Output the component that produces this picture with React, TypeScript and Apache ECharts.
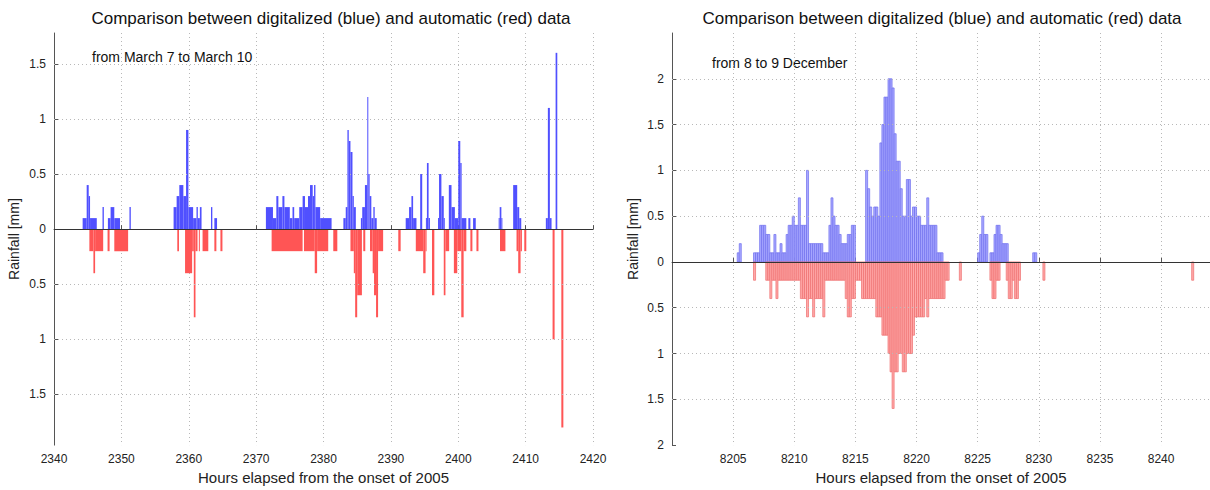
import React, { useEffect, useRef } from "react";
import * as echarts from "echarts";

const titleText = "Comparison between digitalized (blue) and automatic (red) data";
const xName = "Hours elapsed from the onset of 2005";
const yName = "Rainfall [mm]";
const marchNote = "from March 7 to March 10";
const decNote = "from 8 to 9 December";

const marchXTicks = [2340, 2350, 2360, 2370, 2380, 2390, 2400, 2410, 2420];
const marchYTicks = [-1.5, -1, -0.5, 0, 0.5, 1, 1.5];
const decXTicks = [8205, 8210, 8215, 8220, 8225, 8230, 8235, 8240];
const decYTicks = [-2, -1.5, -1, -0.5, 0, 0.5, 1, 1.5, 2];

// March: [start hour, end hour, rainfall mm] (digitalized = blue, automatic = red, shown negative)
const marchBlue: [number, number, number][] = [
  [2344.25, 2344.85, 0.1], [2344.85, 2345.15, 0.4], [2345.15, 2345.35, 0.3], [2345.35, 2346.35, 0.1],
  [2347.2, 2347.4, 0.2],
  [2348.0, 2348.4, 0.1], [2348.4, 2348.95, 0.2], [2348.95, 2349.8, 0.1],
  [2351.2, 2351.4, 0.2],
  [2357.75, 2358.2, 0.2], [2358.2, 2358.6, 0.3], [2358.6, 2359.2, 0.4], [2359.2, 2359.6, 0.3],
  [2359.6, 2359.95, 0.9], [2359.95, 2360.65, 0.2], [2360.65, 2361.15, 0.1], [2361.15, 2361.35, 0.2],
  [2361.35, 2361.65, 0.1], [2361.65, 2361.9, 0.2],
  [2363.3, 2363.5, 0.2], [2363.8, 2364.2, 0.1],
  [2371.45, 2372.5, 0.2], [2372.5, 2373.0, 0.1], [2373.0, 2373.3, 0.3], [2373.3, 2373.9, 0.2],
  [2373.9, 2374.2, 0.3], [2374.2, 2375.0, 0.2], [2375.0, 2375.4, 0.1], [2375.4, 2375.65, 0.2],
  [2375.65, 2376.4, 0.1], [2376.4, 2376.9, 0.2], [2376.9, 2377.25, 0.3], [2377.25, 2377.7, 0.2],
  [2377.7, 2378.0, 0.3], [2378.0, 2378.4, 0.4], [2378.4, 2378.6, 0.3], [2378.6, 2378.8, 0.4],
  [2378.8, 2379.5, 0.2], [2379.5, 2381.2, 0.1],
  [2382.95, 2383.3, 0.1], [2383.3, 2383.55, 0.2], [2383.55, 2383.75, 0.9], [2383.75, 2384.0, 0.8],
  [2384.0, 2384.3, 0.7], [2384.3, 2384.5, 0.3], [2384.5, 2384.8, 0.2],
  [2385.55, 2385.75, 0.1], [2385.75, 2386.15, 0.2], [2386.15, 2386.5, 0.4], [2386.5, 2386.65, 1.2],
  [2386.65, 2386.85, 0.5], [2386.85, 2387.1, 0.3], [2387.1, 2387.4, 0.1], [2387.4, 2387.6, 0.2],
  [2387.6, 2387.9, 0.1],
  [2392.2, 2392.7, 0.1], [2392.7, 2393.05, 0.2], [2393.05, 2393.3, 0.3], [2393.3, 2393.8, 0.1],
  [2394.35, 2394.65, 0.5], [2395.2, 2395.35, 0.1], [2395.35, 2395.6, 0.6], [2395.6, 2395.8, 0.1],
  [2397.0, 2397.15, 0.1], [2397.15, 2397.5, 0.5], [2397.5, 2397.85, 0.3], [2397.85, 2398.0, 0.1],
  [2398.6, 2399.0, 0.4], [2399.0, 2399.5, 0.2], [2399.5, 2400.0, 0.1], [2400.0, 2400.3, 0.8],
  [2400.3, 2400.5, 0.6], [2400.5, 2401.2, 0.1], [2401.5, 2401.8, 0.1], [2402.2, 2402.6, 0.1],
  [2406.0, 2406.15, 0.1], [2406.15, 2406.4, 0.2], [2406.4, 2406.55, 0.1],
  [2408.15, 2408.75, 0.4], [2408.75, 2409.05, 0.2], [2409.05, 2409.35, 0.1],
  [2413.0, 2413.3, 0.1], [2413.3, 2413.6, 1.1], [2413.6, 2413.85, 0.1],
  [2414.45, 2414.7, 1.6],
];

const marchRed: [number, number, number][] = [
  [2345.25, 2345.85, -0.2], [2345.85, 2346.1, -0.4], [2346.1, 2347.3, -0.2],
  [2347.95, 2348.25, -0.2], [2348.95, 2351.0, -0.2],
  [2358.3, 2358.55, -0.2], [2359.45, 2360.5, -0.4], [2360.5, 2360.75, -0.2], [2360.75, 2361.0, -0.8],
  [2361.0, 2361.3, -0.2], [2361.5, 2361.65, -0.2], [2362.05, 2362.9, -0.2], [2363.8, 2364.1, -0.2],
  [2364.7, 2365.0, -0.2],
  [2372.3, 2376.9, -0.2], [2377.1, 2378.7, -0.2], [2378.7, 2379.05, -0.4], [2379.05, 2380.7, -0.2],
  [2381.45, 2382.05, -0.2],
  [2384.0, 2384.5, -0.2], [2384.5, 2384.7, -0.4], [2384.7, 2385.0, -0.8], [2385.0, 2385.7, -0.6],
  [2385.9, 2386.2, -0.2], [2386.9, 2387.3, -0.2], [2387.3, 2387.5, -0.4], [2387.5, 2387.8, -0.6],
  [2387.8, 2388.1, -0.8], [2388.1, 2388.85, -0.2],
  [2391.1, 2391.45, -0.2],
  [2393.7, 2394.8, -0.2], [2394.8, 2395.15, -0.4], [2395.15, 2395.3, -0.2], [2396.1, 2396.45, -0.6],
  [2397.85, 2398.1, -0.6], [2398.1, 2398.65, -0.2],
  [2399.35, 2399.85, -0.4], [2399.85, 2400.45, -0.2], [2400.45, 2400.8, -0.8], [2400.8, 2401.2, -0.2],
  [2401.8, 2402.1, -0.2], [2402.7, 2403.0, -0.2],
  [2406.2, 2407.0, -0.2],
  [2408.65, 2408.9, -0.2], [2408.9, 2409.25, -0.4], [2409.25, 2409.45, -0.2], [2409.8, 2410.1, -0.2],
  [2414.0, 2414.3, -1.0],
  [2415.3, 2415.6, -1.8],
];

// December: 10-minute bins, runs of [hour, minute of first bin, values per bin]
const decBinMinutes = 10;
const decBlueRuns: [number, number, number[]][] = [
  [8205, 20, [0.1, 0.2]],
  [8206, 40, [
    0.1, 0.1, 0.1, 0.4, 0.4, 0.4, 0.3, 0.3, 0.1, 0.1,
    0.3, 0.1, 0.1, 0.2, 0.1, 0.1, 0.3, 0.4, 0.4, 0.5,
    0.4, 0.4, 0.7, 0.4, 0.4, 0.4, 1.0, 0.2, 0.2, 0.2,
    0.2, 0.2, 0.2, 0.2, 0.1, 0.1, 0.1, 0.4, 0.7, 0.5,
    0.4, 0.4, 0.3, 0.2, 0.2, 0.2, 0.3, 0.3, 0.4, 0.4,
  ]],
  [8215, 50, [
    1.0, 0.8, 0.6, 0.5, 0.6, 0.6, 0.5, 1.3, 1.5, 1.8,
    1.8, 2.0, 2.0, 1.9, 1.4, 1.1, 1.1, 0.8, 0.5, 0.5,
    0.9, 0.9, 0.5, 0.6, 0.6, 0.5, 0.5, 0.4, 0.4, 0.4,
    0.7, 0.4, 0.4, 0.4, 0.4, 0.1, 0.1, 0.1,
  ]],
  [8225, 0, [0.1, 0.3, 0.5, 0.3, 0.3, 0, 0.1, 0.1, 0.3, 0.4, 0.4, 0.3, 0.2, 0.2, 0.2]],
  [8229, 30, [0.1, 0.1]],
];
const decRedRuns: [number, number, number[]][] = [
  [8206, 40, [-0.2]],
  [8207, 40, [
    -0.2, -0.2, -0.4, -0.2, -0.2, -0.4, -0.2, -0.2, -0.2, -0.2,
    -0.2, -0.2, -0.2, -0.2, -0.2, -0.2, -0.2, -0.4, -0.4, -0.4,
    -0.6, -0.4, -0.4, -0.6, -0.4, -0.4, -0.4, -0.4, -0.6, -0.2,
    -0.2, -0.2, -0.2, -0.2, -0.2, -0.2, -0.2, -0.2, -0.2, -0.4,
    -0.6, -0.6, -0.4, -0.4, -0.2, -0.2, -0.2, -0.4, -0.4, -0.4,
    -0.4, -0.4, -0.4, -0.4, -0.6, -0.6, -0.6, -0.8, -0.8, -0.8,
    -1.0, -1.2, -1.6, -1.2, -1.2, -1.0, -1.0, -1.2, -1.2, -1.0,
    -1.0, -1.0, -0.8, -0.6, -0.6, -0.6, -0.6, -0.6, -0.4, -0.6,
    -0.4, -0.4, -0.4, -0.4, -0.4, -0.4, -0.4, -0.4, -0.2, -0.2,
  ]],
  [8223, 30, [-0.2]],
  [8226, 0, [-0.2, -0.4, -0.4, -0.2, -0.2, 0, 0, 0, -0.2, -0.4, -0.4, -0.2, -0.4, -0.4, -0.2]],
  [8230, 20, [-0.2]],
  [8242, 30, [-0.2]],
];

function runsToSegments(runs: [number, number, number[]][]): [number, number, number][] {
  const out: [number, number, number][] = [];
  runs.forEach(([h, m, vals]) => {
    vals.forEach((v, i) => {
      if (v === 0) return;
      const s = h + (m + i * decBinMinutes) / 60;
      out.push([s, s + decBinMinutes / 60, v]);
    });
  });
  return out;
}

const FONT = "Liberation Sans, Arial, sans-serif";

function segRenderer(fill: string, stroke: string | null, lw: number) {
  return (params: any, api: any) => {
    const p0 = api.coord([api.value(0), 0]);
    const p1 = api.coord([api.value(1), api.value(2)]);
    const x = p0[0];
    const w = Math.max(p1[0] - p0[0], 1);
    const y = Math.min(p0[1], p1[1]);
    const h = Math.abs(p1[1] - p0[1]);
    return {
      type: "rect",
      shape: { x, y, width: w, height: h },
      style: stroke ? { fill, stroke, lineWidth: lw } : { fill },
    };
  };
}

function gridLines(ticks: number[], skip: number[]) {
  const d: any[] = ticks
    .filter((v) => !skip.includes(v))
    .map((v) => ({ yAxis: v, lineStyle: { type: [1, 3], color: "#b8b8b8", width: 1 } }));
  d.push({ yAxis: 0, lineStyle: { type: "solid", color: "#333", width: 1 } });
  return {
    silent: true,
    symbol: "none",
    label: { show: false },
    emphasis: { disabled: true },
    animation: false,
    data: d,
  };
}

export default function App() {
  const ref = useRef<HTMLDivElement>(null);
  useEffect(() => {
    if (!ref.current) return;
    const chart = echarts.init(ref.current, null, { renderer: "svg" });
    const decBlue = runsToSegments(decBlueRuns);
    const decRed = runsToSegments(decRedRuns);
    const absFmt = (v: number) => String(Math.abs(Math.round(v * 10) / 10));
    const plainFmt = (v: number) => String(v);
    const axisLine = { show: true, lineStyle: { color: "#555", width: 1 } };
    const tickStyle = { show: true, inside: true, length: 4, lineStyle: { color: "#555" } };
    const labelStyle = { color: "#222", fontSize: 12, fontFamily: FONT };
    const vSplit = { show: true, lineStyle: { type: [1, 3] as any, color: "#b8b8b8" } };
    const nameStyle = { fontSize: 15, color: "#222", fontFamily: FONT };
    const yNameStyle = { fontSize: 14, color: "#222", fontFamily: FONT };

    const option: any = {
      animation: false,
      backgroundColor: "#fff",
      grid: [
        { left: 54, right: 617, top: 33, bottom: 33 },
        { left: 672, right: 0, top: 33, bottom: 34 },
      ],
      xAxis: [
        {
          type: "value", gridIndex: 0, min: 2340, max: 2420, interval: 10,
          axisLine, axisTick: { ...tickStyle, customValues: marchXTicks },
          axisLabel: { ...labelStyle, margin: 8, customValues: marchXTicks, formatter: plainFmt },
          splitLine: vSplit,
          name: xName, nameLocation: "middle", nameGap: 22, nameTextStyle: nameStyle,
        },
        {
          type: "value", gridIndex: 1, min: 8200, max: 8244, interval: 5,
          axisLine, axisTick: { ...tickStyle, customValues: decXTicks },
          axisLabel: { ...labelStyle, margin: 8, customValues: decXTicks, formatter: plainFmt },
          splitLine: vSplit,
          name: xName, nameLocation: "middle", nameGap: 22, nameTextStyle: nameStyle,
        },
      ],
      yAxis: [
        {
          type: "value", gridIndex: 0, min: -1.96, max: 1.78,
          axisLine, axisTick: { ...tickStyle, customValues: marchYTicks },
          axisLabel: { ...labelStyle, margin: 8, customValues: marchYTicks, formatter: absFmt },
          splitLine: { show: false },
          name: yName, nameLocation: "middle", nameGap: 33, nameRotate: 90, nameTextStyle: yNameStyle,
        },
        {
          type: "value", gridIndex: 1, min: -2, max: 2.5,
          axisLine, axisTick: { ...tickStyle, customValues: decYTicks },
          axisLabel: { ...labelStyle, margin: 8, customValues: decYTicks, formatter: absFmt },
          splitLine: { show: false },
          name: yName, nameLocation: "middle", nameGap: 32, nameRotate: 90, nameTextStyle: yNameStyle,
        },
      ],
      series: [
        {
          type: "custom", name: "march digitalized", xAxisIndex: 0, yAxisIndex: 0,
          renderItem: segRenderer("#5050ff", null, 0), data: marchBlue,
          encode: { x: [0, 1], y: 2 }, clip: true, silent: true,
          markLine: gridLines(marchYTicks, [0]),
        },
        {
          type: "custom", name: "march automatic", xAxisIndex: 0, yAxisIndex: 0,
          renderItem: segRenderer("#ff5555", null, 0), data: marchRed,
          encode: { x: [0, 1], y: 2 }, clip: true, silent: true,
        },
        {
          type: "custom", name: "december digitalized", xAxisIndex: 1, yAxisIndex: 1,
          renderItem: segRenderer("#a8a8ff", "#6e6eee", 0.7), data: decBlue,
          encode: { x: [0, 1], y: 2 }, clip: true, silent: true,
          markLine: gridLines(decYTicks, [0, -2]),
        },
        {
          type: "custom", name: "december automatic", xAxisIndex: 1, yAxisIndex: 1,
          renderItem: segRenderer("#ffa8a8", "#ee6e6e", 0.7), data: decRed,
          encode: { x: [0, 1], y: 2 }, clip: true, silent: true,
        },
      ],
      graphic: [
        { type: "text", x: 331, y: 18, style: { text: titleText, font: `17px ${FONT}`, fill: "#111", align: "center", verticalAlign: "middle" } },
        { type: "text", x: 942, y: 18, style: { text: titleText, font: `17px ${FONT}`, fill: "#111", align: "center", verticalAlign: "middle" } },
        { type: "text", x: 92, y: 57, style: { text: marchNote, font: `14px ${FONT}`, fill: "#111", align: "left", verticalAlign: "middle" } },
        { type: "text", x: 712, y: 63, style: { text: decNote, font: `14px ${FONT}`, fill: "#111", align: "left", verticalAlign: "middle" } },
      ],
    };
    chart.setOption(option);
    return () => chart.dispose();
  }, []);
  return <div ref={ref} style={{ position: "fixed", left: 0, top: 0, width: 1210, height: 490, background: "#fff" }} />;
}
